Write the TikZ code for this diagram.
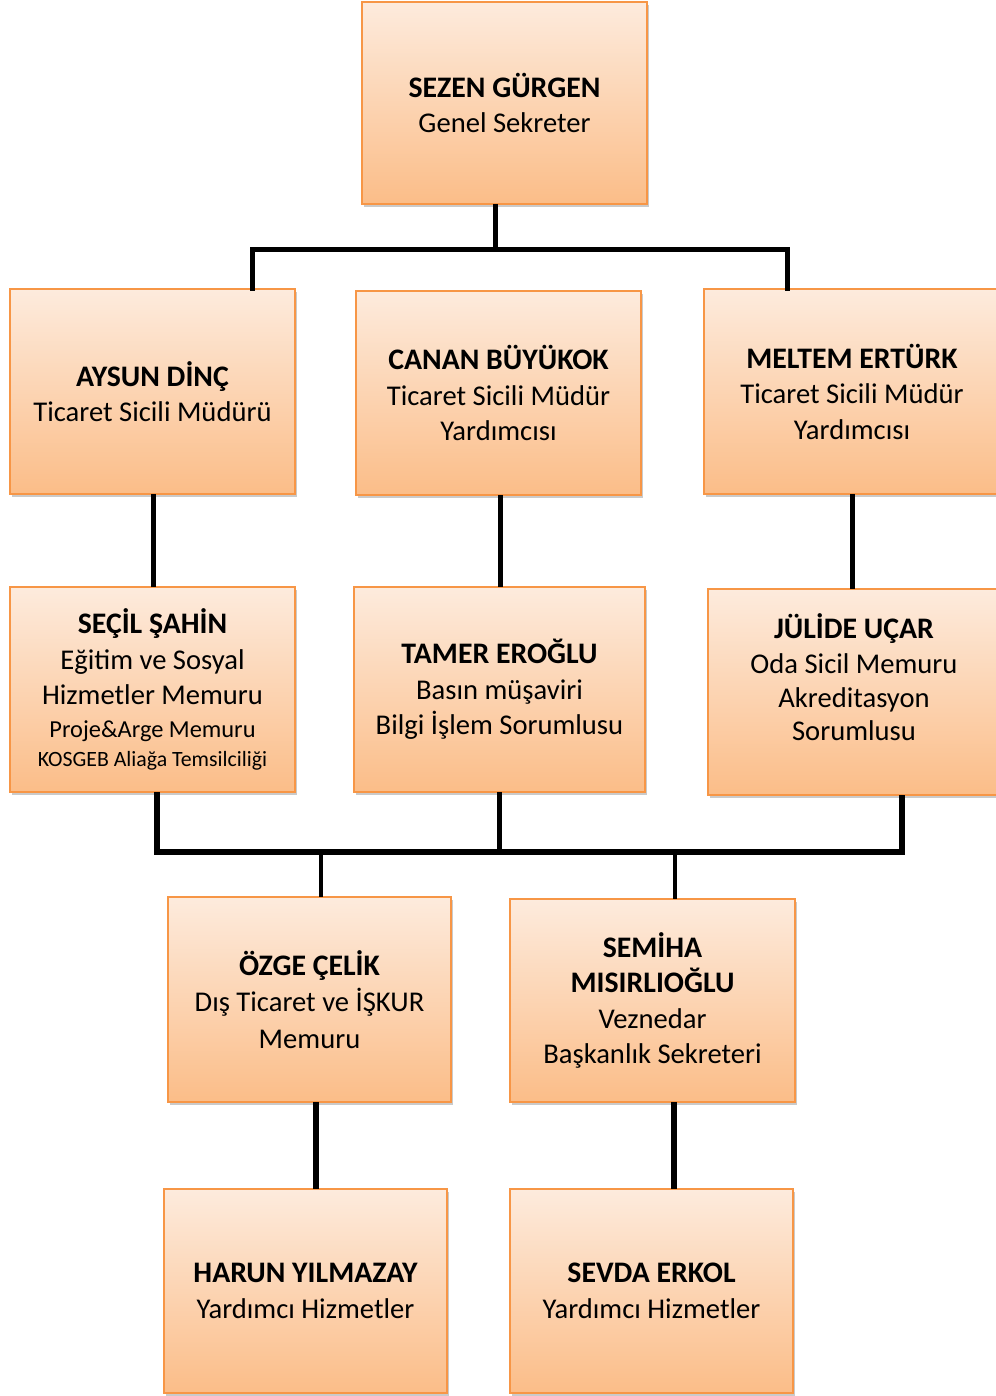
\documentclass[tikz,border=0pt]{standalone}
\usepackage{fontspec}
\setmainfont{Carlito}
\usetikzlibrary{shadows}
\definecolor{boxtop}{HTML}{FDEBDD}
\definecolor{boxbot}{HTML}{FBBD88}
\definecolor{boxedge}{HTML}{F79646}
\tikzset{
  orgbox/.style={draw=boxedge, line width=1.3pt, top color=boxtop, bottom color=boxbot,
    rectangle, anchor=north west, inner sep=0pt, outer sep=0pt, align=center,
    font=\fontsize{28.6}{35.5}\selectfont,
    drop shadow={shadow xshift=2pt, shadow yshift=-3pt, opacity=0.35, fill=black!60}},
  wire/.style={line width=5pt, black},
  thinwire/.style={line width=3.2pt, black},
}
\newcommand{\nm}[1]{{\fontsize{29.8}{35.5}\selectfont\bfseries #1}}
\begin{document}
\begin{tikzpicture}[x=1pt,y=-1pt]
\useasboundingbox (0,0) rectangle (995,1396);
% boxes
\node[orgbox, minimum width=285pt, minimum height=202pt] (sezen) at (362,2) {\nm{SEZEN GÜRGEN}\\Genel Sekreter};
\node[orgbox, minimum width=285pt, minimum height=205pt] (aysun) at (10,289) {\nm{AYSUN DİNÇ}\\Ticaret Sicili Müdürü};
\node[orgbox, minimum width=285pt, minimum height=204pt] (canan) at (356,291) {\nm{CANAN BÜYÜKOK}\\Ticaret Sicili Müdür\\Yardımcısı};
\node[orgbox, minimum width=296pt, minimum height=205pt] (meltem) at (704,289) {\nm{MELTEM ERTÜRK}\\Ticaret Sicili Müdür\\Yardımcısı};
\node[orgbox, minimum width=285pt, minimum height=205pt] (secil) at (10,587) {\nm{SEÇİL ŞAHİN}\\Eğitim ve Sosyal\\Hizmetler Memuru\\[-3pt]{\fontsize{24.4}{30}\selectfont Proje\&Arge Memuru}\\[-6pt]{\fontsize{21.8}{26}\selectfont KOSGEB Aliağa Temsilciliği}};
\node[orgbox, minimum width=291pt, minimum height=205pt] (tamer) at (354,587) {\nm{TAMER EROĞLU}\\Basın müşaviri\\Bilgi İşlem Sorumlusu};
\node[orgbox, minimum width=292pt, minimum height=206pt] (julide) at (708,589) {\nm{JÜLİDE UÇAR}\\Oda Sicil Memuru\\[-2pt]Akreditasyon\\[-2pt]Sorumlusu\\[-6pt]\mbox{}};
\node[orgbox, minimum width=283pt, minimum height=205pt] (ozge) at (168,897) {\nm{ÖZGE ÇELİK}\\[1pt]Dış Ticaret ve İŞKUR\\[1pt]Memuru};
\node[orgbox, minimum width=285pt, minimum height=203pt] (semiha) at (510,899) {\nm{SEMİHA}\\\nm{MISIRLIOĞLU}\\Veznedar\\Başkanlık Sekreteri};
\node[orgbox, minimum width=283pt, minimum height=204pt] (harun) at (164,1189) {\nm{HARUN YILMAZAY}\\Yardımcı Hizmetler};
\node[orgbox, minimum width=283pt, minimum height=204pt] (sevda) at (510,1189) {\nm{SEVDA ERKOL}\\Yardımcı Hizmetler};
% top bus
\coordinate (topbus) at (495,250);
\draw[wire] (sezen.south -| topbus) -- (topbus);
\draw[wire, line cap=rect] (aysun.north -| 252,0) |- (topbus) -| (meltem.north -| 787,0);
% second level
\draw[wire] (aysun.south -| 153,0) -- (secil.north -| 153,0);
\draw[wire] (canan.south -| 500,0) -- (tamer.north -| 500,0);
\draw[wire] (meltem.south -| 852,0) -- (julide.north -| 852,0);
% bottom bus
\coordinate (botbus) at (499,852);
\draw[wire, line width=6pt] (secil.south -| 157,0) |- (botbus) -| (julide.south -| 902,0);
\draw[wire] (tamer.south -| botbus) -- (botbus);
\draw[thinwire] (321,852) -- (ozge.north -| 321,0);
\draw[thinwire] (675,852) -- (semiha.north -| 675,0);
% last level
\draw[wire, line width=6pt] (ozge.south -| 316,0) -- (harun.north -| 316,0);
\draw[wire, line width=6pt] (semiha.south -| 674,0) -- (sevda.north -| 674,0);
\end{tikzpicture}
\end{document}
